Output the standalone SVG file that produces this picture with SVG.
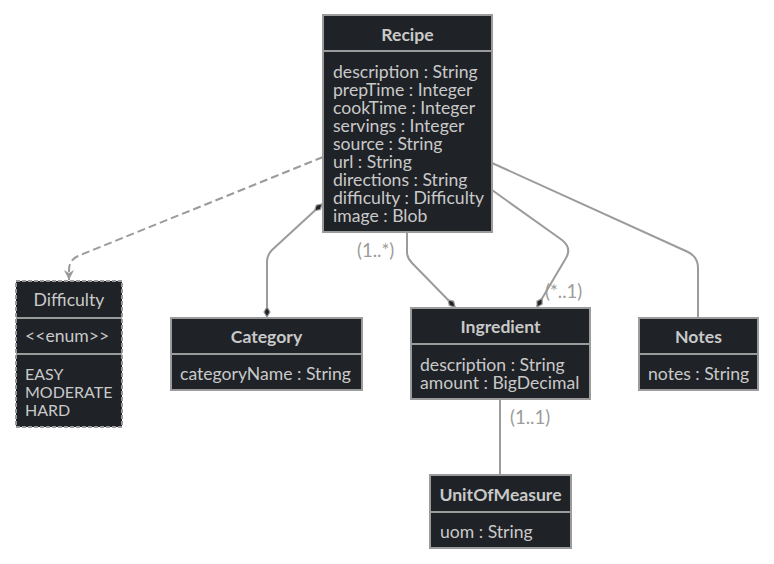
<svg xmlns="http://www.w3.org/2000/svg" width="774" height="564" viewBox="0 0 774 564">
<defs>
<style>
.box{fill:#1f2227;stroke:#9b9b9b;stroke-width:2}
.div{stroke:#9b9b9b;stroke-width:2}
.t{font-family:Lato,"Noto Sans",sans-serif;font-size:17.6px;fill:#c9c9c9}
.caps{font-size:16px}
.b{font-weight:bold;text-anchor:middle}
.c{fill:none;stroke:#9b9b9b;stroke-width:2}
.lbl{font-family:Lato,"Noto Sans",sans-serif;font-size:18.5px;fill:#9b9b9b}
</style>
<marker id="dia" viewBox="0 0 12 8" refX="11" refY="4" markerWidth="12" markerHeight="8" markerUnits="userSpaceOnUse" orient="auto-start-reverse">
<path d="M1,4 L6,1 L11,4 L6,7 Z" fill="#1f2227" stroke="#9b9b9b" stroke-width="1.2"/>
</marker>
<marker id="arr" viewBox="0 0 12 12" refX="11" refY="6" markerWidth="12" markerHeight="12" markerUnits="userSpaceOnUse" orient="auto">
<path d="M1,1 L11,6 L1,11 L4,6 Z" fill="#9b9b9b"/>
</marker>
</defs>
<rect width="774" height="564" fill="#ffffff"/>
<g id="connectors">
<path class="c" d="M323,157 L78,256 Q69,260 69,270 L69,280" stroke-dasharray="8,4" marker-end="url(#arr)"/>
<path class="c" d="M267,317 L267,262 Q267,255 272,250 L322,204" marker-start="url(#dia)" marker-end="url(#dia)"/>
<path class="c" d="M407,232 L407,252 Q407,258 412,263 L455,307" marker-end="url(#dia)"/>
<path class="c" d="M492,190 L562,240 Q572,248 566,258 L537,307" marker-end="url(#dia)"/>
<path class="c" d="M492,163 L688,252 Q698,257 698,268 L698,318"/>
<path class="c" d="M500,399 L500,475"/>
<text class="lbl" x="357" y="257">(1..*)</text>
<text class="lbl" x="545" y="298">(*..1)</text>
<text class="lbl" x="510" y="424">(1..1)</text>
</g>
<g id="Recipe">
<rect class="box" x="323" y="15" width="169" height="217"/>
<line class="div" x1="323" y1="51" x2="492" y2="51"/>
<text class="t b" x="407.5" y="41">Recipe</text>
<text class="t" x="333" y="78">description : String</text>
<text class="t" x="333" y="96">prepTime : Integer</text>
<text class="t" x="333" y="114">cookTime : Integer</text>
<text class="t" x="333" y="132">servings : Integer</text>
<text class="t" x="333" y="150">source : String</text>
<text class="t" x="333" y="168">url : String</text>
<text class="t" x="333" y="186">directions : String</text>
<text class="t" x="333" y="204">difficulty : Difficulty</text>
<text class="t" x="333" y="222">image : Blob</text>
</g>
<g id="Difficulty">
<rect class="box" x="16" y="281" width="106" height="146" stroke-dasharray="4,2"/>
<line class="div" x1="16" y1="318" x2="122" y2="318"/>
<line class="div" x1="16" y1="354" x2="122" y2="354"/>
<text class="t" x="69" y="306" text-anchor="middle">Difficulty</text>
<text class="t" x="25" y="342">&lt;&lt;enum&gt;&gt;</text>
<text class="t caps" x="25" y="380">EASY</text>
<text class="t caps" x="25" y="398">MODERATE</text>
<text class="t caps" x="25" y="416">HARD</text>
</g>
<g id="Category">
<rect class="box" x="171" y="318" width="191" height="72"/>
<line class="div" x1="171" y1="354" x2="362" y2="354"/>
<text class="t b" x="266.5" y="343">Category</text>
<text class="t" x="180" y="380">categoryName : String</text>
</g>
<g id="Ingredient">
<rect class="box" x="411" y="308" width="179" height="91"/>
<line class="div" x1="411" y1="344" x2="590" y2="344"/>
<text class="t b" x="500.5" y="333">Ingredient</text>
<text class="t" x="420" y="371">description : String</text>
<text class="t" x="420" y="389">amount : BigDecimal</text>
</g>
<g id="Notes">
<rect class="box" x="639" y="318" width="119" height="72"/>
<line class="div" x1="639" y1="354" x2="758" y2="354"/>
<text class="t b" x="698.5" y="343">Notes</text>
<text class="t" x="648" y="380">notes : String</text>
</g>
<g id="UnitOfMeasure">
<rect class="box" x="430" y="475" width="141" height="73"/>
<line class="div" x1="430" y1="512" x2="571" y2="512"/>
<text class="t b" x="500.5" y="501">UnitOfMeasure</text>
<text class="t" x="440" y="538">uom : String</text>
</g>
</svg>
